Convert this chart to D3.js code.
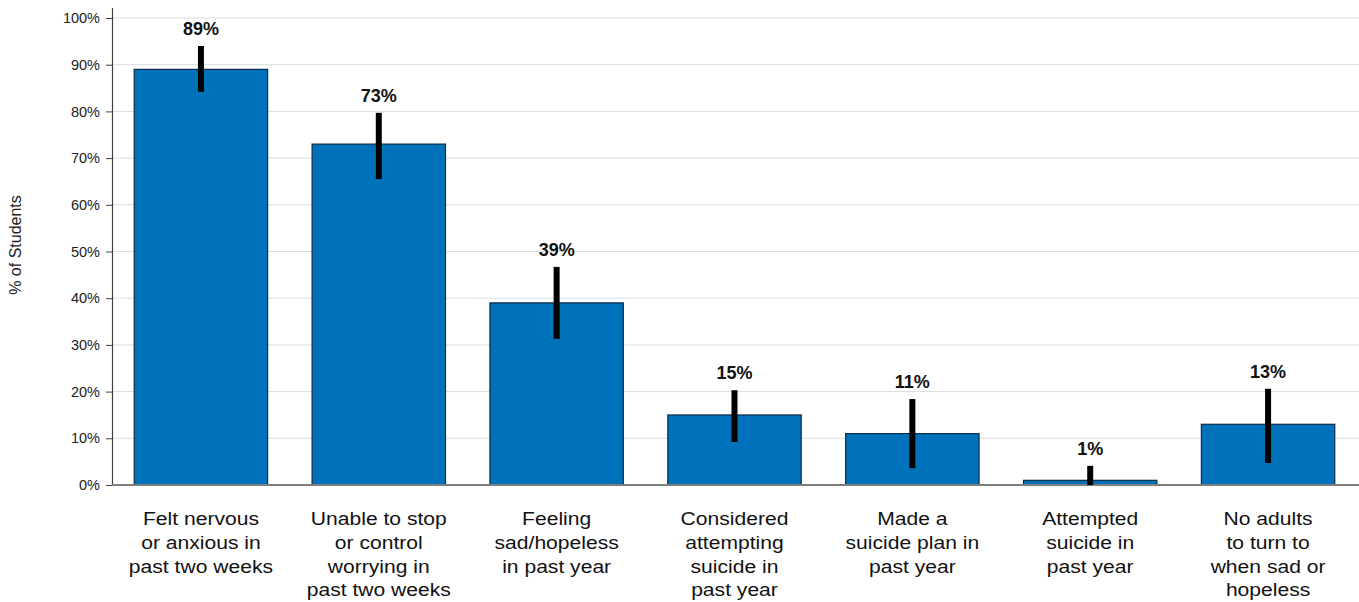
<!DOCTYPE html>
<html>
<head>
<meta charset="utf-8">
<script src="https://cdn.jsdelivr.net/npm/d3@7"></script>
<style>
  body { margin: 0; background: #fff; }
  svg { display: block; font-family: "Liberation Sans", Arial, sans-serif; }
</style>
</head>
<body>
<svg id="chart" width="1359" height="602"></svg>
<script>
// Indicator labels (one line per array entry)
const categories = [
  ["Felt nervous", "or anxious in", "past two weeks"],
  ["Unable to stop", "or control", "worrying in", "past two weeks"],
  ["Feeling", "sad/hopeless", "in past year"],
  ["Considered", "attempting", "suicide in", "past year"],
  ["Made a", "suicide plan in", "past year"],
  ["Attempted", "suicide in", "past year"],
  ["No adults", "to turn to", "when sad or", "hopeless"]
];
// Percent of students
const values = [89, 73, 39, 15, 11, 1, 13];
// Confidence interval bounds (percent)
const lower = [84.2, 65.5, 31.3, 9.2, 3.6, 0, 4.7];
const upper = [94.0, 79.7, 46.7, 20.3, 18.4, 4.1, 20.6];
const yTicks = [0, 10, 20, 30, 40, 50, 60, 70, 80, 90, 100];

const svg = d3.select("#chart");
const plotLeft = 112, plotRight = 1357, plotTop = 18, plotBottom = 485;

const x = d3.scaleBand()
  .domain(d3.range(values.length))
  .range([plotLeft, plotRight])
  .paddingInner(0.25)
  .paddingOuter(0.125);

const y = d3.scaleLinear().domain([0, 100]).range([plotBottom, plotTop]);
const cx = i => x(i) + x.bandwidth() / 2;

// Horizontal gridlines
svg.append("g")
  .selectAll("line")
  .data(yTicks.filter(d => d > 0))
  .join("line")
  .attr("x1", plotLeft).attr("x2", 1359)
  .attr("y1", d => y(d)).attr("y2", d => y(d))
  .attr("stroke", "#dcdcdc").attr("stroke-width", 1);

// Y axis
const yAxis = svg.append("g")
  .attr("transform", `translate(${plotLeft},0)`)
  .call(d3.axisLeft(y).tickValues(yTicks).tickFormat(d => d + "%").tickSize(6).tickPadding(6));
yAxis.select(".domain").attr("stroke", "#404040").attr("stroke-width", 1.2)
  .attr("d", `M0.5,${plotBottom}V${plotTop - 10}`);
yAxis.selectAll(".tick line").attr("stroke", "#404040");
yAxis.selectAll(".tick text")
  .attr("font-size", 14.5).attr("fill", "#222")
  .attr("font-family", "'Liberation Sans', Arial, sans-serif");

// Y axis title
svg.append("text")
  .attr("transform", `translate(21,245) rotate(-90)`)
  .attr("text-anchor", "middle")
  .attr("font-size", 16)
  .attr("fill", "#222")
  .text("% of Students");

// Bars
svg.append("g")
  .selectAll("rect")
  .data(values)
  .join("rect")
  .attr("x", (d, i) => x(i))
  .attr("y", d => y(d))
  .attr("width", x.bandwidth())
  .attr("height", d => y(0) - y(d))
  .attr("fill", "#0072bc")
  .attr("stroke", "#0d2a45")
  .attr("stroke-width", 1.2);

// Baseline
svg.append("line")
  .attr("x1", plotLeft).attr("x2", 1359)
  .attr("y1", plotBottom).attr("y2", plotBottom)
  .attr("stroke", "#7f7f7f").attr("stroke-width", 2);

// Error bars
svg.append("g")
  .selectAll("line")
  .data(values)
  .join("line")
  .attr("x1", (d, i) => cx(i))
  .attr("x2", (d, i) => cx(i))
  .attr("y1", (d, i) => y(lower[i]))
  .attr("y2", (d, i) => y(upper[i]))
  .attr("stroke", "#000").attr("stroke-width", 6);

// Value labels
svg.append("g")
  .selectAll("text")
  .data(values)
  .join("text")
  .attr("x", (d, i) => cx(i))
  .attr("y", (d, i) => y(upper[i]) - 11)
  .attr("text-anchor", "middle")
  .attr("font-size", 18)
  .attr("font-weight", "bold")
  .attr("fill", "#111")
  .text(d => d + "%");

// Category labels (slightly widened lettering)
const cat = svg.append("g")
  .selectAll("text")
  .data(categories)
  .join("text")
  .attr("transform", (d, i) => `translate(${cx(i)},525) scale(1.14,1)`)
  .attr("text-anchor", "middle")
  .attr("font-size", 18.5)
  .attr("fill", "#111");
cat.selectAll("tspan")
  .data(d => d)
  .join("tspan")
  .attr("x", 0)
  .attr("dy", (d, j) => j === 0 ? 0 : 23.8)
  .text(d => d);
</script>
</body>
</html>
